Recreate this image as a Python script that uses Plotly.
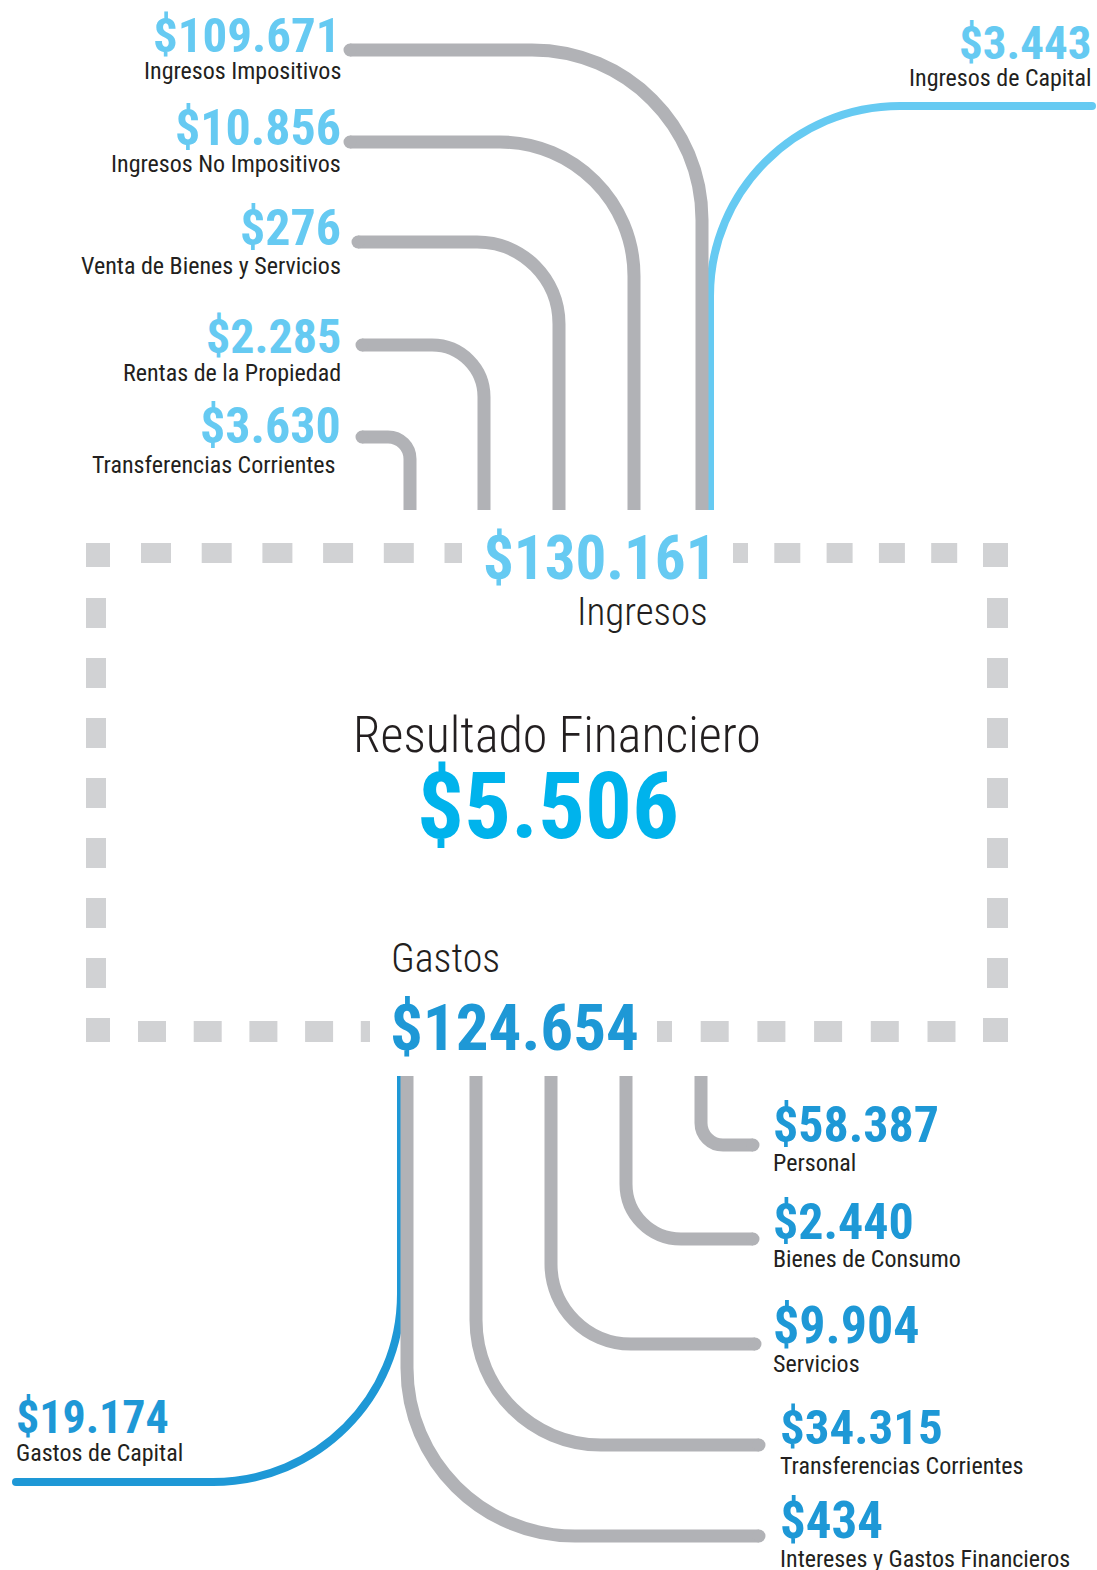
import plotly.graph_objects as go

# --- datos (millones de $) ---
ingresos_labels = ["Ingresos Impositivos", "Ingresos No Impositivos", "Venta de Bienes y Servicios",
                   "Rentas de la Propiedad", "Transferencias Corrientes", "Ingresos de Capital"]
ingresos_values = [109671, 10856, 276, 2285, 3630, 3443]

gastos_labels = ["Personal", "Bienes de Consumo", "Servicios", "Transferencias Corrientes",
                 "Intereses y Gastos Financieros", "Gastos de Capital"]
gastos_values = [58387, 2440, 9904, 34315, 434, 19174]

total_labels = ["Ingresos", "Resultado Financiero", "Gastos"]
total_values = [130161, 5506, 124654]

# --- estilo / posiciones ---
W, H = 1097, 1570
FONT = "Liberation Sans Narrow, Roboto Condensed, Roboto, sans-serif"
TXT = "#231F20"
GRAY = "#B1B2B6"
DASH = "#D1D2D4"
BLUE_LIGHT = "#66CAF2"
BLUE_MID = "#00B3EC"
BLUE_DARK = "#1E98D6"

# conectores: (x vertical, y horizontal, x extremo, radio)
ing_lines = [(702, 50, 350, 170), (634, 142, 350, 134), (559, 242, 358, 82),
             (484, 345, 362, 52), (410, 437, 362, 22), (710, 106, 1092, 190)]
gas_lines = [(701, 1145, 753, 22), (626, 1239, 753, 55), (551, 1344, 755, 80),
             (476, 1445, 759, 125), (407, 1536, 759, 168), (401, 1482, 16, 188)]
ING_VY, GAS_VY = 510, 1076

ing_val_y = [35.5, 128, 228, 336, 426, 42.5]
ing_lab_y = [70.5, 164, 266, 373, 465, 78]
ing_x = [342, 342, 342, 342, 342, 1092]
ing_lab_x = [342, 342, 342, 342, 337, 1092]
ing_size = [49, 50, 50, 48, 50, 47]

gas_val_y = [1124.5, 1221.5, 1325, 1427.5, 1520.5, 1416.5]
gas_lab_y = [1163, 1259, 1364, 1466, 1559, 1453]
gas_x = [772, 772, 772, 779, 779, 15]
gas_size = [50, 50, 52, 49, 51, 46]
LAB_SIZE = 24


def money(v):
    return "$" + f"{v:,}".replace(",", ".")


def connector(xv, yh, xh, r, yv):
    sx = 1 if xh > xv else -1
    sy = 1 if yv > yh else -1
    k = 0.5523 * r
    return (f"M {xh},{yh} L {xv + sx * r},{yh} "
            f"C {xv + sx * (r - k)},{yh} {xv},{yh + sy * (r - k)} {xv},{yh + sy * r} "
            f"L {xv},{yv}")


def dash_run(start, period, dash, lo, hi):
    out, p = [], start
    while p < hi:
        a, b = max(p, lo), min(p + dash, hi)
        if b > a:
            out.append((a, b))
        p += period
    return out


fig = go.Figure()
shapes = []

# marco punteado
squares = []
for a, b in dash_run(141, 60.7, 30, 141, 462):
    squares.append((a, b, 543, 563))
for a, b in dash_run(722, 52.3, 26, 733, 960):
    squares.append((a, b, 543, 563))
for a, b in dash_run(138, 55.7, 28, 138, 370):
    squares.append((a, b, 1021, 1042))
for a, b in dash_run(644, 56.7, 28, 657, 960):
    squares.append((a, b, 1021, 1042))
for a, b in dash_run(598, 60, 30, 598, 990):
    squares.append((86, 106, a, b))
    squares.append((987, 1008, a, b))
squares += [(86, 110, 543, 567), (983, 1008, 543, 567), (86, 110, 1018, 1042), (983, 1008, 1018, 1042)]
for x0, x1, y0, y1 in squares:
    shapes.append(dict(type="rect", x0=x0, x1=x1, y0=y0, y1=y1, fillcolor=DASH, line_width=0, layer="below"))


def add_line(spec, vy, color, width):
    xv, yh, xh, r = spec
    shapes.append(dict(type="path", path=connector(xv, yh, xh, r, vy), line=dict(color=color, width=width)))
    h = width / 2
    shapes.append(dict(type="circle", x0=xh - h, x1=xh + h, y0=yh - h, y1=yh + h, fillcolor=color, line_width=0))


# lineas azules primero (quedan detras de las grises)
add_line(ing_lines[5], ING_VY, BLUE_LIGHT, 8)
add_line(gas_lines[5], GAS_VY, BLUE_DARK, 8)
for spec in ing_lines[:5]:
    add_line(spec, ING_VY, GRAY, 13)
for spec in gas_lines[:5]:
    add_line(spec, GAS_VY, GRAY, 13)


def text(x, y, s, size, color, weight, anchor):
    fig.add_annotation(x=x, y=y, text=s, showarrow=False, xanchor=anchor, yanchor="middle", borderpad=0,
                       font=dict(family=FONT, size=size, color=color, weight=weight))


for i, (lab, val) in enumerate(zip(ingresos_labels, ingresos_values)):
    text(ing_x[i], ing_val_y[i], money(val), ing_size[i], BLUE_LIGHT, 700, "right")
    text(ing_lab_x[i], ing_lab_y[i], lab, LAB_SIZE, TXT, 400, "right")

for i, (lab, val) in enumerate(zip(gastos_labels, gastos_values)):
    text(gas_x[i], gas_val_y[i], money(val), gas_size[i], BLUE_DARK, 700, "left")
    text(gas_x[i], gas_lab_y[i], lab, LAB_SIZE, TXT, 400, "left")

# totales
text(600, 557.5, money(total_values[0]), 61, BLUE_LIGHT, 700, "center")
text(709, 611.5, total_labels[0], 39, TXT, 300, "right")
text(557, 735, total_labels[1], 50, TXT, 300, "center")
text(548, 806.5, money(total_values[1]), 93, BLUE_MID, 700, "center")
text(390, 958.5, total_labels[2], 40, TXT, 300, "left")
text(389, 1028, money(total_values[2]), 65, BLUE_DARK, 700, "left")

fig.update_layout(
    width=W, height=H, margin=dict(l=0, r=0, t=0, b=0),
    paper_bgcolor="white", plot_bgcolor="white",
    xaxis=dict(range=[0, W], visible=False, fixedrange=True),
    yaxis=dict(range=[H, 0], visible=False, fixedrange=True),
    shapes=shapes, showlegend=False,
)

fig.write_html("out.html", config={"displayModeBar": False},
               post_script="document.body.style.margin='0';")
